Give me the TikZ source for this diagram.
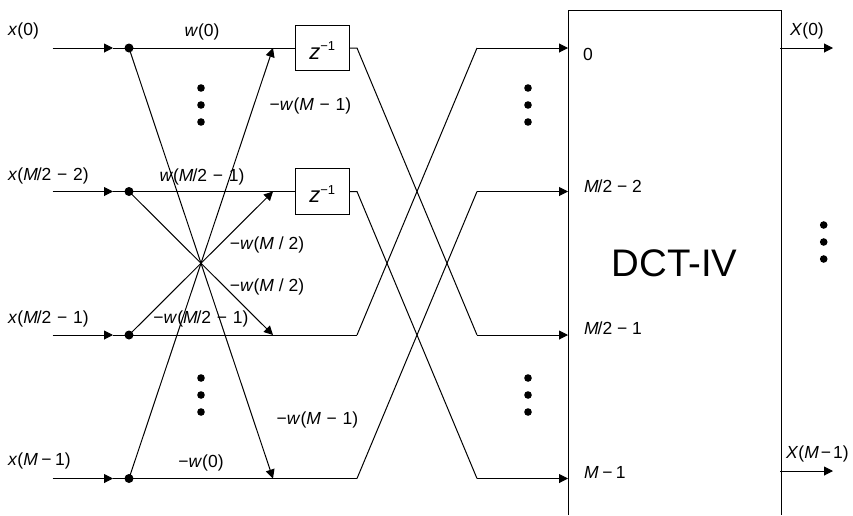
\documentclass[tikz,border=0pt]{standalone}
\usepackage{fontspec}
\setmainfont{Liberation Sans}
\usetikzlibrary{arrows.meta}
\newcommand{\iv}[1]{\textit{#1}}
\newcommand{\mn}{\kern0.33em−\kern0.33em}
\newcommand{\mnt}{\kern0.2em−\kern0.2em}
\newcommand{\sla}{\kern-0.06em/}
\newcommand{\zinv}{\smash{\raisebox{-11pt}{\iv{z}\kern0pt\raisebox{8.5pt}{\fontsize{13}{15}\selectfont −1}}}}
\tikzset{
  x=1pt,y=-1pt,
  wire/.style={line width=1pt,black},
  tip/.style={wire,-{Triangle[length=9pt,width=9pt]},shorten >=0pt},
  lbl/.style={inner sep=0pt,font=\fontsize{17.5}{19}\selectfont},
  lleft/.style={lbl,anchor=west},
  junction/.style={circle,fill=black,inner sep=0pt,minimum size=9pt},
  ell/.style={circle,fill=black,inner sep=0pt,minimum size=7.6pt},
  delaybox/.style={draw,line width=1pt,minimum width=53.5pt,minimum height=45.5pt,inner sep=0pt,font=\fontsize{22}{24}\selectfont},
}
\begin{document}
\begin{tikzpicture}
\useasboundingbox (0,0) rectangle (853,515);
% rows
\foreach \n/\y in {1/48,2/191.5,3/335,4/478.5}{
  \coordinate (s\n) at (52.5,\y);
  \coordinate (a\n) at (113,\y);
  \node[junction] (d\n) at (129,\y) {};
  \coordinate (t\n) at (273,\y);
  \coordinate (k\n) at (357,\y);
  \coordinate (r\n) at (477,\y);
  \coordinate (e\n) at (568,\y);
  \draw[tip] (s\n) -- (a\n);
  \draw[wire] (a\n) -- (d\n.center);
}
\node[delaybox] (z1) at (322.25,48) {\zinv};
\node[delaybox] (z2) at (322.25,191.5) {\zinv};
% horizontals
\draw[wire] (d1.center) -- (z1.west);
\draw[wire] (d2.center) -- (z2.west);
\draw[wire] (d3.center) -- (k3);
\draw[wire] (d4.center) -- (k4);
% butterflies
\draw[tip] (d1.center) -- (t4);
\draw[tip] (d4.center) -- (t1);
\draw[tip] (d2.center) -- (t3);
\draw[tip] (d3.center) -- (t2);
% crossing
\draw[wire] (z1.east) -- (k1) -- (r3);
\draw[wire] (z2.east) -- (k2) -- (r4);
\draw[wire] (k3) -- (r1);
\draw[wire] (k4) -- (r2);
\foreach \n in {1,2,3,4}{\draw[tip] (r\n) -- (e\n);}
% DCT box
\coordinate (bl) at (568,515);
\coordinate (tl) at (568,10.5);
\coordinate (tr) at (781,10.5);
\coordinate (br) at (781,515);
\draw[wire] (bl) -- (tl) -- (tr) -- (br);
\node[inner sep=0pt,font=\fontsize{38.4}{42}\selectfont] (dct) at (674.5,263) {DCT-IV};
% outputs
\coordinate (o1) at (780,48);
\coordinate (p1) at (833,48);
\coordinate (o2) at (780,471);
\coordinate (p2) at (833,471);
\draw[tip] (o1) -- (p1);
\draw[tip] (o2) -- (p2);
% ellipses
\foreach \nm/\x/\y in {a/201/88,b/201/105,c/201/122,e/201/378,f/201/395,g/201/412,h/528/88,i/528/105,j/528/122,l/528/378,m/528/395,n/528/412,o/823.7/225,p/823.7/242,q/823.7/259}{
  \node[ell] (v\nm) at (\x,\y) {};
}
% labels
\node[lleft] (l1) at (8,31) {\iv{x}(0)};
\node[lleft] (l2) at (8,176) {\iv{x}(\iv{M}\sla 2\mn 2)};
\node[lleft] (l3) at (8,318.5) {\iv{x}(\iv{M}\sla 2\mn 1)};
\node[lleft] (l4) at (8,461) {\iv{x}(\iv{M}\mnt 1)};
\node[lbl] (w1) at (202,32) {\iv{w}(0)};
\node[lbl] (w2) at (310.5,106) {−\iv{w}(\iv{M}\mn 1)};
\node[lbl] (w3) at (202,177) {\iv{w}(\iv{M}\sla 2\mn 1)};
\node[lbl] (w4) at (267,245) {−\iv{w}(\iv{M} / 2)};
\node[lbl] (w5) at (267,287) {−\iv{w}(\iv{M} / 2)};
\node[lbl] (w6) at (201,319) {−\iv{w}(\iv{M}\sla 2\mn 1)};
\node[lbl] (w7) at (317.5,420) {−\iv{w}(\iv{M}\mn 1)};
\node[lbl] (w8) at (201,463) {−\iv{w}(0)};
\node[lleft] (i1) at (583,54) {0};
\node[lleft] (i2) at (584,186) {\iv{M}\sla 2\kern0.27em−\kern0.27em 2};
\node[lleft] (i3) at (584,328) {\iv{M}\sla 2\kern0.27em−\kern0.27em 1};
\node[lleft] (i4) at (584,472) {\iv{M}\mnt 1};
\node[lleft] (x1) at (790,31) {\iv{X}(0)};
\node[lleft] (x2) at (786,454) {\iv{X}(\iv{M}\kern0.12em−\kern0.12em 1)};
\end{tikzpicture}
\end{document}
